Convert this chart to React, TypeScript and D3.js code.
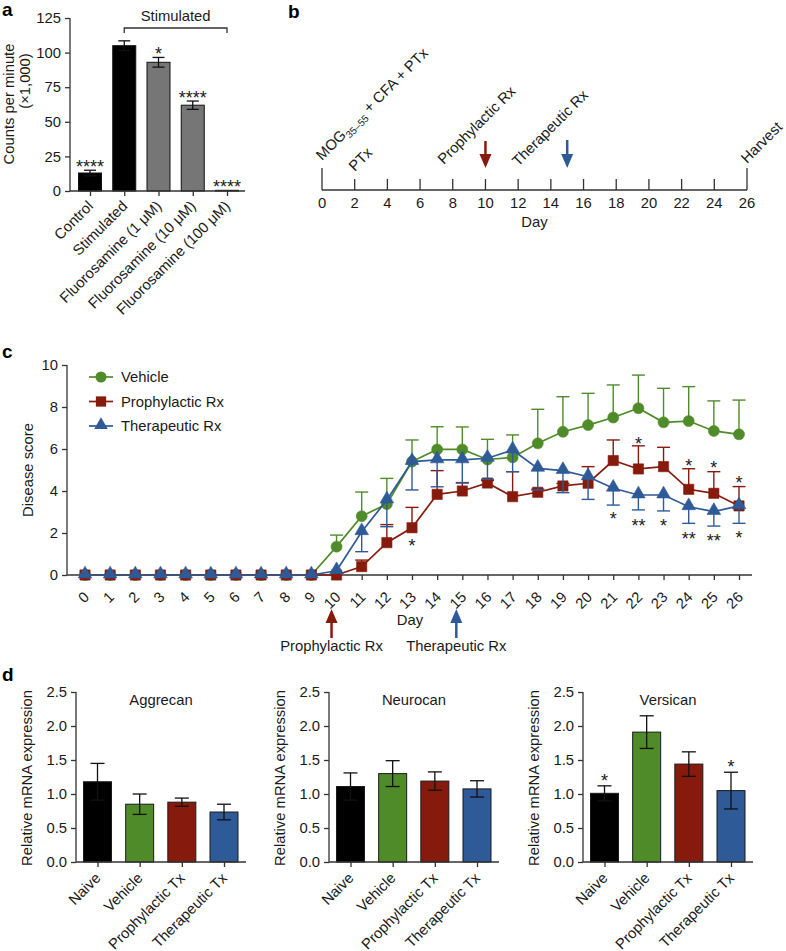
import * as d3 from 'd3';
import React, { useEffect, useRef } from 'react';

// a: proliferation
const prolifGroups = ['Control', 'Stimulated', 'Fluorosamine (1 μM)', 'Fluorosamine (10 μM)', 'Fluorosamine (100 μM)'];
const prolifMeans = [13, 105, 93, 62, 0.5];
const prolifErr = [2, 3.5, 3.5, 3, 0.2];
const prolifStars = ['****', '', '*', '****', '****'];
const prolifFill = ['#000000', '#000000', '#767676', '#767676', '#767676'];
const prolifTicks = [0, 25, 50, 75, 100, 125];

// b: timeline
const timelineTicks = [0, 2, 4, 6, 8, 10, 12, 14, 16, 18, 20, 22, 24, 26];
const eventDays = [0, 2, 8, 12, 26];
const eventLabels = ['MOG', 'PTx', 'Prophylactic Rx', 'Therapeutic Rx', 'Harvest'];
const rxDays = [10, 15];

// c: disease score
const days = [0, 1, 2, 3, 4, 5, 6, 7, 8, 9, 10, 11, 12, 13, 14, 15, 16, 17, 18, 19, 20, 21, 22, 23, 24, 25, 26];
const vehicleScore = [0, 0, 0, 0, 0, 0, 0, 0, 0, 0, 1.35, 2.8, 3.38, 5.4, 5.98, 5.98, 5.5, 5.6, 6.27, 6.82, 7.14, 7.5, 7.94, 7.27, 7.33, 6.86, 6.7];
const vehicleErr = [0, 0, 0, 0, 0, 0, 0, 0, 0, 0, 0.55, 1.15, 1.22, 1.03, 1.08, 1.07, 0.96, 1.07, 1.62, 1.67, 1.51, 1.55, 1.58, 1.62, 1.64, 1.43, 1.63];
const prophScore = [0, 0, 0, 0, 0, 0, 0, 0, 0, 0, 0, 0.4, 1.54, 2.25, 3.84, 4.0, 4.38, 3.73, 3.94, 4.24, 4.37, 5.45, 5.05, 5.16, 4.08, 3.89, 3.29];
const prophErr = [0, 0, 0, 0, 0, 0, 0, 0, 0, 0, 0.05, 0.31, 0.86, 0.97, 1.13, 0.4, 0.12, 1.19, 0.15, 0.12, 0.79, 0.98, 1.1, 0.92, 0.98, 1.03, 0.92];
const theraScore = [0, 0, 0, 0, 0, 0, 0, 0, 0, 0, 0.2, 2.06, 3.57, 5.4, 5.48, 5.48, 5.56, 5.95, 5.08, 4.97, 4.68, 4.13, 3.81, 3.81, 3.25, 3.02, 3.29];
const theraErr = [0, 0, 0, 0, 0, 0, 0, 0, 0, 0, 0.05, 0.95, 1.27, 1.35, 1.28, 1.1, 1.0, 1.03, 1.03, 1.05, 1.08, 0.8, 0.71, 0.76, 0.79, 0.69, 0.83];
const seriesNames = ['Vehicle', 'Prophylactic Rx', 'Therapeutic Rx'];
const starDays = [13, 21, 22, 22, 23, 24, 24, 25, 25, 26, 26];
const starLevels = [1.55, 2.86, 6.43, 2.54, 2.54, 5.4, 1.9, 5.29, 1.82, 4.57, 1.95];
const starTexts = ['*', '*', '*', '**', '*', '*', '**', '*', '**', '*', '*'];
const scoreTicks = [0, 2, 4, 6, 8, 10];

// d: mRNA
const mrnaGroups = ['Naive', 'Vehicle', 'Prophylactic Tx', 'Therapeutic Tx'];
const mrnaGenes = ['Aggrecan', 'Neurocan', 'Versican'];
const aggrecanMeans = [1.18, 0.85, 0.88, 0.735];
const aggrecanErr = [0.27, 0.15, 0.06, 0.115];
const neurocanMeans = [1.11, 1.3, 1.19, 1.075];
const neurocanErr = [0.2, 0.19, 0.135, 0.12];
const versicanMeans = [1.01, 1.91, 1.44, 1.05];
const versicanErr = [0.11, 0.24, 0.18, 0.27];
const versicanStars = ['*', '', '', '*'];
const mrnaTicks = [0, 0.5, 1, 1.5, 2, 2.5];

const FONT = '"Liberation Sans", Arial, Helvetica, sans-serif';
const GREEN = '#4f8c29';
const RED = '#861b0d';
const BLUE = '#2e5a97';
const AX = '#333';
const TXT = '#1a1a1a';
const FS = 14.8;
const STAR_FS = 18;

type Sel = d3.Selection<SVGGElement, unknown, null, undefined>;

function styleAxis(g: Sel) {
  g.selectAll('path.domain').remove();
  g.selectAll('line').attr('stroke', AX).attr('stroke-width', 1.3);
  g.selectAll('text').attr('fill', TXT).attr('font-size', FS).attr('font-family', FONT);
}

function panelLabel(root: Sel, t: string, x: number, y: number) {
  root.append('text').attr('x', x).attr('y', y).attr('font-size', 19).attr('font-weight', 'bold').attr('fill', '#000').text(t);
}

function drawPanelA(root: Sel) {
  const g = root.append('g');
  const x = d3.scalePoint<string>().domain(prolifGroups).range([90, 227]);
  const y = d3.scaleLinear().domain([0, 125]).range([191, 18]);
  const bw = 23;

  g.append('g').attr('transform', 'translate(70,0)')
    .call(d3.axisLeft(y).tickValues(prolifTicks).tickSize(5).tickPadding(4).tickSizeOuter(0))
    .call(styleAxis);
  g.append('line').attr('x1', 70).attr('x2', 70).attr('y1', y(125)).attr('y2', y(0)).attr('stroke', AX).attr('stroke-width', 1.3);

  g.selectAll('rect.bar').data(prolifGroups).enter().append('rect')
    .attr('x', d => x(d)! - bw / 2).attr('width', bw)
    .attr('y', (d, i) => y(prolifMeans[i])).attr('height', (d, i) => y(0) - y(prolifMeans[i]))
    .attr('fill', (d, i) => prolifFill[i]).attr('stroke', '#111').attr('stroke-width', 1);

  prolifGroups.forEach((c, i) => {
    const cx = x(c)!;
    const top = y(prolifMeans[i] + prolifErr[i]);
    const bot = y(prolifMeans[i] - prolifErr[i]);
    if (prolifErr[i] > 0.5) {
      g.append('line').attr('x1', cx).attr('x2', cx).attr('y1', top).attr('y2', bot).attr('stroke', '#111').attr('stroke-width', 1.3);
      [top, bot].forEach(v => g.append('line').attr('x1', cx - 6).attr('x2', cx + 6).attr('y1', v).attr('y2', v).attr('stroke', '#111').attr('stroke-width', 1.3));
    }
    if (prolifStars[i]) {
      g.append('text').attr('x', cx).attr('y', top + 2.5).attr('text-anchor', 'middle').attr('font-size', STAR_FS).attr('fill', TXT).text(prolifStars[i]);
    }
  });

  g.append('line').attr('x1', 70).attr('x2', 245).attr('y1', y(0)).attr('y2', y(0)).attr('stroke', AX).attr('stroke-width', 1.3);
  g.append('g').attr('transform', `translate(0,${y(0)})`)
    .call(d3.axisBottom(x).tickSize(5).tickSizeOuter(0).tickFormat(() => ''))
    .call(styleAxis);

  g.selectAll('text.xl').data(prolifGroups).enter().append('text')
    .attr('transform', d => `translate(${x(d)! + 4},${y(0) + 16}) rotate(-45)`)
    .attr('text-anchor', 'end').attr('font-size', FS).attr('fill', TXT).text(d => d);

  // bracket over the stimulated groups
  const bx1 = x('Stimulated')!;
  const bx2 = x('Fluorosamine (100 μM)')!;
  g.append('path').attr('d', `M${bx1},33V28H${bx2}V33`).attr('fill', 'none').attr('stroke', AX).attr('stroke-width', 1.3);
  g.append('text').attr('x', (bx1 + bx2) / 2).attr('y', 21).attr('text-anchor', 'middle').attr('font-size', FS).attr('fill', TXT).text('Stimulated');

  g.append('text').attr('transform', 'translate(14,104) rotate(-90)').attr('text-anchor', 'middle').attr('font-size', FS).attr('fill', TXT).text('Counts per minute');
  g.append('text').attr('transform', 'translate(30,81) rotate(-90)').attr('text-anchor', 'middle').attr('font-size', FS).attr('fill', TXT).text('(×1,000)');
  panelLabel(root, 'a', 2, 16);
}

function arrow(g: Sel, x: number, y1: number, y2: number, color: string, dir: number) {
  // dir = 1 : pointing down (tip at y2), -1 : pointing up (tip at y1)
  const head = 14;
  if (dir === 1) {
    g.append('line').attr('x1', x).attr('x2', x).attr('y1', y1).attr('y2', y2 - head + 1).attr('stroke', color).attr('stroke-width', 2.5);
    g.append('path').attr('d', `M${x - 6},${y2 - head}L${x + 6},${y2 - head}L${x},${y2}Z`).attr('fill', color);
  } else {
    g.append('line').attr('x1', x).attr('x2', x).attr('y1', y1 + head - 1).attr('y2', y2).attr('stroke', color).attr('stroke-width', 2.5);
    g.append('path').attr('d', `M${x - 6},${y1 + head}L${x + 6},${y1 + head}L${x},${y1}Z`).attr('fill', color);
  }
}

function drawPanelB(root: Sel) {
  const g = root.append('g');
  const x = d3.scaleLinear().domain([0, 26]).range([322, 747]);
  const base = 190;
  g.append('line').attr('x1', x(0)).attr('x2', x(26)).attr('y1', base).attr('y2', base).attr('stroke', AX).attr('stroke-width', 1.3);
  timelineTicks.forEach(d => {
    const tall = d === 0 || d === 26;
    g.append('line').attr('x1', x(d)).attr('x2', x(d)).attr('y1', base).attr('y2', tall ? base - 22 : base - 11).attr('stroke', AX).attr('stroke-width', 1.3);
    g.append('text').attr('x', x(d)).attr('y', base + 18).attr('text-anchor', 'middle').attr('font-size', FS).attr('fill', TXT).text(d);
  });
  g.append('text').attr('x', x(13)).attr('y', base + 37).attr('text-anchor', 'middle').attr('font-size', FS).attr('fill', TXT).text('Day');

  const dx = [0, 0, -9, 0, 0];
  const yy = [161, 172, 165, 167, 164];
  eventDays.forEach((d, i) => {
    const t = g.append('text').attr('transform', `translate(${x(d) + dx[i]},${yy[i]}) rotate(-45)`)
      .attr('font-size', FS).attr('fill', TXT);
    if (i === 0) {
      t.append('tspan').text('MOG');
      t.append('tspan').attr('font-size', 10).attr('dy', 4).text('35–55');
      t.append('tspan').attr('dy', -4).text(' + CFA + PTx');
    } else {
      t.text(eventLabels[i]);
    }
  });
  arrow(g, x(rxDays[0]), 141, 168, RED, 1);
  arrow(g, x(rxDays[1]), 140, 168, BLUE, 1);
  panelLabel(root, 'b', 288, 18);
}

function drawPanelC(root: Sel) {
  const g = root.append('g');
  const x = d3.scaleLinear().domain([0, 26]).range([85, 739]);
  const y = d3.scaleLinear().domain([0, 10]).range([575, 365]);

  g.append('line').attr('x1', 67).attr('x2', 67).attr('y1', y(10)).attr('y2', y(0)).attr('stroke', AX).attr('stroke-width', 1.3);
  g.append('g').attr('transform', 'translate(67,0)')
    .call(d3.axisLeft(y).tickValues(scoreTicks).tickSize(5).tickPadding(4).tickSizeOuter(0))
    .call(styleAxis);
  g.append('line').attr('x1', 67).attr('x2', 752).attr('y1', y(0)).attr('y2', y(0)).attr('stroke', AX).attr('stroke-width', 1.3);
  g.append('g').attr('transform', `translate(0,${y(0)})`)
    .call(d3.axisBottom(x).tickValues(days).tickSize(5).tickSizeOuter(0).tickFormat(() => ''))
    .call(styleAxis);
  g.selectAll('text.xl').data(days).enter().append('text')
    .attr('transform', d => `translate(${x(d) + 5},${y(0) + 23}) rotate(-45)`)
    .attr('text-anchor', 'end').attr('font-size', FS).attr('fill', TXT).text(d => d);
  g.append('text').attr('x', 410).attr('y', 625).attr('text-anchor', 'middle').attr('font-size', FS).attr('fill', TXT).text('Day');
  g.append('text').attr('transform', 'translate(33,470) rotate(-90)').attr('text-anchor', 'middle').attr('font-size', FS).attr('fill', TXT).text('Disease score');

  const series = [
    { name: seriesNames[0], vals: vehicleScore, err: vehicleErr, color: GREEN, sym: d3.symbolCircle, size: 95, dir: 1 },
    { name: seriesNames[1], vals: prophScore, err: prophErr, color: RED, sym: d3.symbolSquare, size: 105, dir: 1 },
    { name: seriesNames[2], vals: theraScore, err: theraErr, color: BLUE, sym: d3.symbolTriangle, size: 80, dir: -1 },
  ];
  const line = d3.line<number>().x((v, i) => x(days[i])).y(v => y(v));

  series.forEach(s => {
    const sg = g.append('g');
    sg.append('path').attr('d', line(s.vals)).attr('fill', 'none').attr('stroke', s.color).attr('stroke-width', 1.7);
    s.vals.forEach((v, i) => {
      if (s.err[i] <= 0.06) return;
      const e = y(v + s.dir * s.err[i]);
      sg.append('line').attr('x1', x(days[i])).attr('x2', x(days[i])).attr('y1', y(v)).attr('y2', e).attr('stroke', s.color).attr('stroke-width', 1.4);
      sg.append('line').attr('x1', x(days[i]) - 6.5).attr('x2', x(days[i]) + 6.5).attr('y1', e).attr('y2', e).attr('stroke', s.color).attr('stroke-width', 1.4);
    });
    const sym = d3.symbol().type(s.sym).size(s.size);
    sg.selectAll('path.pt').data(s.vals).enter().append('path')
      .attr('d', sym()!).attr('transform', (v, i) => `translate(${x(days[i])},${y(v) + (s.sym === d3.symbolTriangle ? -1 : 0)})`)
      .attr('fill', s.color).attr('stroke', s.color).attr('stroke-width', 0.6);
  });

  starDays.forEach((d, i) => {
    g.append('text').attr('x', x(d)).attr('y', y(starLevels[i]) + 10).attr('text-anchor', 'middle').attr('font-size', STAR_FS).attr('fill', TXT).text(starTexts[i]);
  });

  // legend
  series.forEach((s, i) => {
    const ly = 377 + i * 24.5;
    g.append('line').attr('x1', 89).attr('x2', 113).attr('y1', ly).attr('y2', ly).attr('stroke', s.color).attr('stroke-width', 1.7);
    g.append('path').attr('d', d3.symbol().type(s.sym).size(s.size)()!).attr('transform', `translate(101,${ly + (s.sym === d3.symbolTriangle ? -1 : 0)})`).attr('fill', s.color);
    g.append('text').attr('x', 121).attr('y', ly + 5).attr('font-size', FS).attr('fill', TXT).text(s.name);
  });

  // treatment arrows below the axis
  arrow(g, x(rxDays[0]) - 5, 609, 638, RED, -1);
  arrow(g, x(rxDays[1]) - 6, 609, 638, BLUE, -1);
  g.append('text').attr('x', x(rxDays[0]) - 5).attr('y', 651).attr('text-anchor', 'middle').attr('font-size', FS).attr('fill', TXT).text('Prophylactic Rx');
  g.append('text').attr('x', x(rxDays[1]) - 6).attr('y', 651).attr('text-anchor', 'middle').attr('font-size', FS).attr('fill', TXT).text('Therapeutic Rx');
  panelLabel(root, 'c', 2, 358);
}

function drawMrna(root: Sel, axisX: number, title: string, means: number[], errs: number[], stars: string[]) {
  const g = root.append('g');
  const x = d3.scalePoint<string>().domain(mrnaGroups).range([axisX + 21.5, axisX + 148]);
  const y = d3.scaleLinear().domain([0, 2.5]).range([862, 692]);
  const colors = ['#000000', GREEN, RED, BLUE];
  const bw = 28;

  g.append('line').attr('x1', axisX).attr('x2', axisX).attr('y1', y(2.5)).attr('y2', y(0)).attr('stroke', AX).attr('stroke-width', 1.3);
  g.append('g').attr('transform', `translate(${axisX},0)`)
    .call(d3.axisLeft(y).tickValues(mrnaTicks).tickFormat(d3.format('.1f')).tickSize(5).tickPadding(4).tickSizeOuter(0))
    .call(styleAxis);

  g.selectAll('rect.bar').data(mrnaGroups).enter().append('rect')
    .attr('x', d => x(d)! - bw / 2).attr('width', bw)
    .attr('y', (d, i) => y(means[i])).attr('height', (d, i) => y(0) - y(means[i]))
    .attr('fill', (d, i) => colors[i]).attr('stroke', '#1a1a1a').attr('stroke-width', 1);

  mrnaGroups.forEach((c, i) => {
    const cx = x(c)!;
    const top = y(means[i] + errs[i]);
    const bot = y(means[i] - errs[i]);
    g.append('line').attr('x1', cx).attr('x2', cx).attr('y1', top).attr('y2', bot).attr('stroke', '#111').attr('stroke-width', 1.3);
    [top, bot].forEach(v => g.append('line').attr('x1', cx - 7).attr('x2', cx + 7).attr('y1', v).attr('y2', v).attr('stroke', '#111').attr('stroke-width', 1.3));
    if (stars[i]) {
      g.append('text').attr('x', cx).attr('y', top + 1).attr('text-anchor', 'middle').attr('font-size', STAR_FS).attr('fill', TXT).text(stars[i]);
    }
  });

  g.append('line').attr('x1', axisX).attr('x2', axisX + 170).attr('y1', y(0)).attr('y2', y(0)).attr('stroke', AX).attr('stroke-width', 1.3);
  g.append('g').attr('transform', `translate(0,${y(0)})`)
    .call(d3.axisBottom(x).tickSize(5).tickSizeOuter(0).tickFormat(() => ''))
    .call(styleAxis);
  g.selectAll('text.xl').data(mrnaGroups).enter().append('text')
    .attr('transform', d => `translate(${x(d)! + 4},${y(0) + 17}) rotate(-45)`)
    .attr('text-anchor', 'end').attr('font-size', FS).attr('fill', TXT).text(d => d);

  g.append('text').attr('x', axisX + 85).attr('y', 705).attr('text-anchor', 'middle').attr('font-size', FS).attr('fill', TXT).text(title);
  g.append('text').attr('transform', `translate(${axisX - 44},778) rotate(-90)`).attr('text-anchor', 'middle').attr('font-size', FS).attr('fill', TXT).text('Relative mRNA expression');
}

function drawPanelD(root: Sel) {
  drawMrna(root, 76, mrnaGenes[0], aggrecanMeans, aggrecanErr, ['', '', '', '']);
  drawMrna(root, 329, mrnaGenes[1], neurocanMeans, neurocanErr, ['', '', '', '']);
  drawMrna(root, 583, mrnaGenes[2], versicanMeans, versicanErr, versicanStars);
  panelLabel(root, 'd', 2, 681);
}

export default function App() {
  const ref = useRef<SVGSVGElement>(null);
  useEffect(() => {
    const svg = d3.select(ref.current);
    svg.selectAll('*').remove();
    const root = svg.append('g').attr('font-family', FONT) as unknown as Sel;
    drawPanelA(root);
    drawPanelB(root);
    drawPanelC(root);
    drawPanelD(root);
  }, []);
  return (
    <div style={{ position: 'absolute', left: 0, top: 0 }}>
      <svg ref={ref} width={786} height={951} style={{ display: 'block', background: '#fff' }} />
    </div>
  );
}
